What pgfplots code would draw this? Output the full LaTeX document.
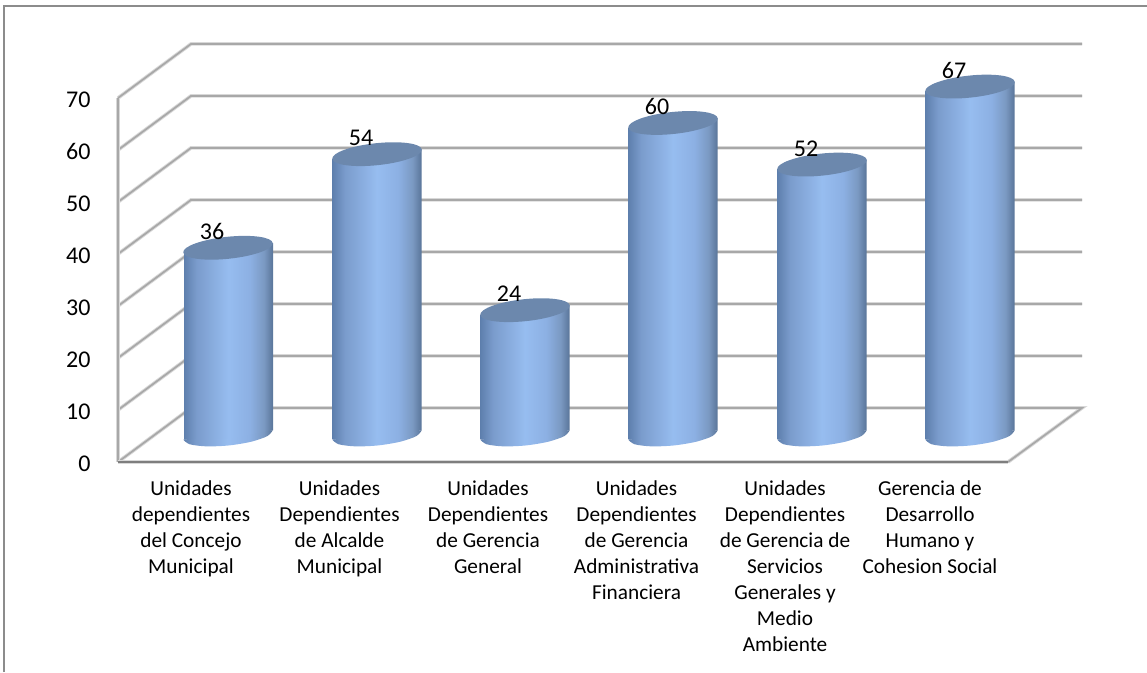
\documentclass[border=0pt]{standalone}
\usepackage{fontspec}
\setmainfont{Carlito}
\usepackage{pgfplots}
\pgfplotsset{compat=1.18}
\usepackage{pgfplotstable}

\definecolor{capblue}{HTML}{6C88AD}
\definecolor{gridgray}{HTML}{A8A8A8}
\definecolor{gridhalo}{HTML}{D8D8D8}
\definecolor{framegray}{HTML}{8C8C8C}

% side of the cylinder, colours between 25bp and 75bp fill the path's width
\pgfdeclarehorizontalshading{cylbody}{100bp}{
  rgb(0bp)=(0.37,0.50,0.68);
  rgb(25bp)=(0.37,0.50,0.68);
  rgb(32bp)=(0.48,0.61,0.80);
  rgb(50bp)=(0.59,0.74,0.94);
  rgb(62bp)=(0.55,0.69,0.89);
  rgb(70bp)=(0.48,0.60,0.76);
  rgb(75bp)=(0.35,0.46,0.60);
  rgb(100bp)=(0.35,0.46,0.60)
}
% top of the cylinders
\pgfdeclareplotmark{cyltop}{%
  \pgftransformrotate{6}%
  \pgfpathellipse{\pgfpointorigin}{\pgfpoint{45pt}{0pt}}{\pgfpoint{0pt}{11pt}}%
  \pgfusepathqfill}

\pgfplotstableread{
x    v
228  36
377  54
525  24
673  60
822  52
970  67
}\cyldata

% lower edge of a cylinder, round its centre
\pgfplotstableread{
dx      dy
44.75   0.90
39.31   -0.22
23.33   -1.29
1.10    -2.01
-21.43  -2.19
-38.21  -1.79
-44.75  -0.90
}\cylfoot

\tikzset{
  gridline/.style={draw=gridgray, line width=1.7pt, line join=miter,
    preaction={draw=gridhalo, line width=3.6pt}},
  floorline/.style={draw=framegray!90!black, line width=2.2pt,
    preaction={draw=gridhalo, line width=4.2pt}},
  cylside/.style={draw=none, shade, shading=cylbody},
}

\begin{document}
\begin{tikzpicture}
\useasboundingbox (0,0) rectangle (1147pt,672pt);
\draw[framegray, line width=1.6pt] (3.8pt,0) -- (3.8pt,665.8pt) -- (1147pt,665.8pt);

% walls, floor and the value axis
\begin{axis}[
  at={(118pt,210pt)}, anchor=south west,
  scale only axis, width=1029pt, height=462pt,
  xmin=118, xmax=1147, ymin=0, ymax=88.85,
  clip=false,
  axis line style={draw=none},
  major tick length=0pt,
  ytick={0,10,...,70},
  xtick={191,339.5,488,636.5,785,930},
  xticklabels={
    {Unidades\\dependientes\\del Concejo\\Municipal},
    {Unidades\\Dependientes\\de Alcalde\\Municipal},
    {Unidades\\Dependientes\\de Gerencia\\General},
    {Unidades\\Dependientes\\de Gerencia\\Administrativa\\Financiera},
    {Unidades\\Dependientes\\de Gerencia de\\Servicios\\Generales y\\Medio\\Ambiente},
    {Gerencia de\\Desarrollo\\Humano y\\Cohesion Social}},
  x tick label style={font=\fontsize{21.3}{26}\selectfont, align=center, anchor=north, yshift=-15pt},
  y tick label style={font=\fontsize{24}{26}\selectfont, anchor=east, xshift=-24pt, yshift=-1.5pt},
  /pgf/number format/assume math mode=true,
]
\addplot[gridline] coordinates {(118,70)(191,80.4)(1082,80.4)};
\addplot[gridline] coordinates {(118,60)(191,70.4)(1082,70.4)};
\addplot[gridline] coordinates {(118,50)(191,60.4)(1082,60.4)};
\addplot[gridline] coordinates {(118,40)(191,50.4)(1082,50.4)};
\addplot[gridline] coordinates {(118,30)(191,40.4)(1082,40.4)};
\addplot[gridline] coordinates {(118,20)(191,30.4)(1082,30.4)};
\addplot[gridline] coordinates {(118,10)(191,20.4)(1082,20.4)};
\addplot[gridline] coordinates {(118,0)(191,10.4)(1082,10.4)(1008,0)};
\addplot[gridline] coordinates {(118,0)(118,70)};
\addplot[floorline] coordinates {(118,0)(1008,0)};
\end{axis}

% cylinders, value 0 sits in the middle of the floor
\begin{axis}[
  at={(0pt,0pt)}, anchor=south west,
  scale only axis, width=1147pt, height=672pt,
  xmin=0, xmax=1147, ymin=-45.58, ymax=83.65,
  clip=false, hide axis,
]
\pgfplotsinvokeforeach{228,377,525,673,822,970}{
  \addplot[cylside, smooth] table[x expr=\thisrow{dx}+#1, y=dy] {\cylfoot} -- cycle;
}
% the dip in the lower edge overlaps the foot, so no seam shows
\addplot[cylside] coordinates {(184,35.1)(273,36.9)(273,0.9)(228.5,-0.7)(184,-0.9)} -- cycle;
\addplot[cylside] coordinates {(332.5,53.1)(421.5,54.9)(421.5,0.9)(377,-0.7)(332.5,-0.9)} -- cycle;
\addplot[cylside] coordinates {(480.5,23.1)(569.5,24.9)(569.5,0.9)(525,-0.7)(480.5,-0.9)} -- cycle;
\addplot[cylside] coordinates {(628.5,59.1)(717.5,60.9)(717.5,0.9)(673,-0.7)(628.5,-0.9)} -- cycle;
\addplot[cylside] coordinates {(777.5,51.1)(866.5,52.9)(866.5,0.9)(822,-0.7)(777.5,-0.9)} -- cycle;
\addplot[cylside] coordinates {(925.5,66.1)(1014.5,67.9)(1014.5,0.9)(970,-0.7)(925.5,-0.9)} -- cycle;
\addplot[only marks, mark=cyltop, mark options={draw=none, fill=capblue},
  nodes near coords, point meta=explicit symbolic,
  every node near coord/.append style={font=\fontsize{24}{26}\selectfont, anchor=center,
    xshift=-16pt, yshift=16pt, text=black}]
  table[x=x, y=v, meta=v] {\cyldata};
\end{axis}
\end{tikzpicture}
\end{document}
